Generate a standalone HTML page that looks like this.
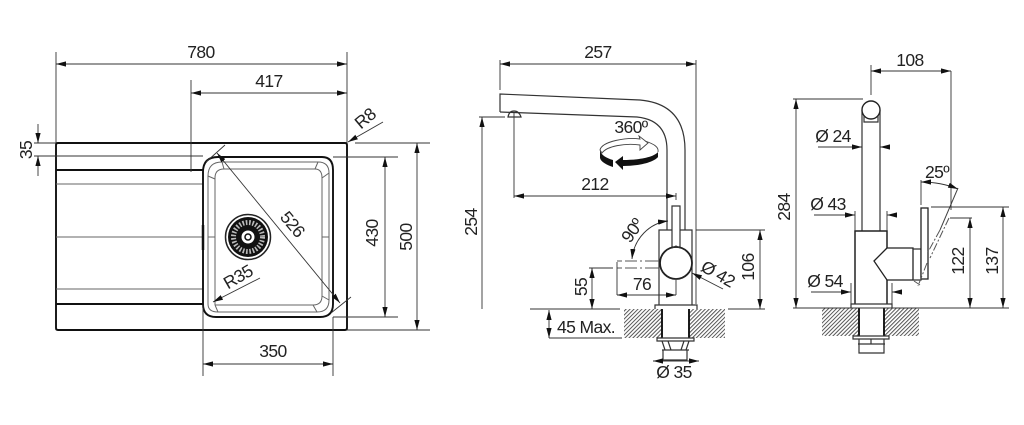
<!DOCTYPE html>
<html><head><meta charset="utf-8"><style>
html,body{margin:0;padding:0;background:#fff;width:1024px;height:425px;overflow:hidden}
svg{display:block;filter:blur(.3px)}
text{font-family:"Liberation Sans",sans-serif;font-size:17.5px;letter-spacing:-.6px;fill:#222;text-anchor:middle}
.d{stroke:#333;stroke-width:.9;fill:none}
.da{stroke:#333;stroke-width:.9;fill:none;marker-start:url(#a);marker-end:url(#a)}
.de{stroke:#333;stroke-width:.9;fill:none;marker-end:url(#a)}
.t{stroke:#111;stroke-width:1.9;fill:none}
.m{stroke:#333;stroke-width:1.2;fill:none}
.g{stroke:#666;stroke-width:1;fill:none}
</style></head><body>
<svg width="1024" height="425" viewBox="0 0 1024 425" xmlns="http://www.w3.org/2000/svg">
<defs>
<marker id="a" markerUnits="userSpaceOnUse" markerWidth="11" markerHeight="6" refX="10" refY="3" orient="auto-start-reverse"><path d="M0,.4 L10,3 L0,5.6z" fill="#111"/></marker>
<pattern id="h" width="2.8" height="2.8" patternUnits="userSpaceOnUse" patternTransform="rotate(45)"><rect width="2.8" height="2.8" fill="#fff"/><rect width="1" height="2.8" fill="#555"/></pattern>
</defs>

<!-- SINK -->
<path class="t" d="M56,145 Q56,143 58,143 H345 Q347,143 347,145 V328 Q347,330 345,330 H58 Q56,330 56,328 Z"/>
<path class="t" d="M56,170 H203 M56,304 H203"/>
<path class="g" d="M56,184 H203 M56,237 H203 M56,289 H203"/>
<path d="M203,225 V250" stroke="#111" stroke-width="2.5"/>
<path class="t" d="M203,172 Q203,157 218,157 H322 Q333,157 333,170 V304 Q333,317 320,317 H216 Q203,317 203,304 Z" stroke-width="1.6"/>
<path class="g" d="M208,304 V176 Q208,162 222,162 H318 Q329,162 329,173 V300 Q329,312 317,312 H218 Q208,312 208,304"/>
<path class="g" d="M215,305 V178 Q215,169 224,169 H315 Q322,169 322,178 V296 Q322,305 313,305 H215"/>
<path class="g" d="M208,237 H215 M322,237 H329 M208,176 L215,179 M222,162 L224,169 M318,162 L315,169 M329,173 L322,178 M329,300 L322,296 M317,312 L313,305 M218,312 L215,305"/>
<!-- drain -->
<circle cx="248" cy="237" r="22.5" fill="#fff" stroke="#222" stroke-width="1.5"/>
<circle cx="248" cy="237" r="20" fill="#111"/>
<circle cx="248" cy="237" r="14.5" fill="none" stroke="#bbb" stroke-width="5" stroke-dasharray="1.6 1.7"/>
<circle cx="248" cy="237" r="9.5" fill="#111"/>
<circle cx="248" cy="237" r="6.5" fill="#fff"/>
<circle cx="248" cy="237" r="3" fill="#fff" stroke="#111" stroke-width="1.5"/>

<!-- sink dims -->
<path class="d" d="M56,52 V143 M347,52 V143 M191,80 V172 M34,143 H56 M34,156 H203 M203,305 V376 M333,317 V376"/>
<path class="da" d="M56,64 H347"/>
<path class="da" d="M191,93 H347"/>
<path class="de" d="M38,124 V143"/>
<path class="de" d="M38,176 V156"/>
<path class="da" d="M203,364 H333"/>
<path class="d" d="M355,143 H430 M333,157 H398 M333,317 H398 M347,330 H430"/>
<path class="da" d="M385,157 V317"/>
<path class="da" d="M417,143 V330"/>
<path class="de" d="M383,122 L348,142"/>
<path class="da" d="M217,153 L340,303"/>
<path class="d" d="M225,145 L206,162 M351,297 L331,313"/>
<path class="de" d="M260,278 L213,302"/>
<text x="201" y="58">780</text>
<text x="269" y="87">417</text>
<text x="273" y="357">350</text>
<text transform="translate(32,150) rotate(-90)">35</text>
<text transform="translate(378,233) rotate(-90)">430</text>
<text transform="translate(412,237) rotate(-90)">500</text>
<text transform="translate(369,123) rotate(-40)">R8</text>
<text transform="translate(288,228) rotate(50)">526</text>
<text transform="translate(241,282) rotate(-30)">R35</text>

<!-- FAUCET 1 -->
<path class="m" d="M500,112 V94 L640,100 Q685,104 685,150 V230"/>
<path class="m" d="M500,112 L637,117 Q667,120 667,150 V230"/>
<path class="m" d="M508,117 Q509,111 514,111 Q519,111 521,117 H508 Z"/>
<path class="m" d="M659,305 V230 H692 V305"/>
<path class="m" d="M655,309 V305 H697 V309"/>
<path d="M672,248 V206 H680 V248" fill="#fff" stroke="#333" stroke-width="1.2"/>
<circle cx="676" cy="263" r="16" fill="#fff" stroke="#222" stroke-width="1.8"/>
<path class="m" d="M672,248 L676,246 L680,248"/>
<path d="M659,261 H645 M642,261 H640 M637,261 H625 M622,261 H617 M659,268 H645 M642,268 H640 M637,268 H625 M622,268 H617" stroke="#555" stroke-width="1"/>
<rect x="624" y="309" width="38" height="29" fill="url(#h)"/>
<rect x="689" y="309" width="36" height="29" fill="url(#h)"/>
<path class="t" d="M662,309 V338 M689,309 V338" stroke-width="1.4"/>
<path class="m" d="M657,338 H694 V341 H657 Z M662,341 L665,350 H686 L689,341 M662,350 H689 M663,350 V360 H687 V350 M668,341 L671,350 M684,341 L681,350"/>
<!-- rotation arrow -->
<path d="M600,150 C602,141 628,137 640,139 L639,136 L648,143 L640,150 L640,145 C625,143 607,146 602,153 Z" fill="#fff" stroke="#444" stroke-width=".9"/>
<path d="M645,141 C654,144 659,147 658,152" fill="none" stroke="#444" stroke-width=".9"/>
<path d="M600,150 L600,158 C601,162 607,165 613,167 L613,160 C606,158 601,155 600,150 Z" fill="#111"/>
<path d="M658,152 V157 C654,162 640,166 623,166 L623,170 L615,162 L623,156 L623,160 C640,160 654,157 658,152 Z" fill="#111"/>
<!-- dims -->
<path class="d" d="M500,60 V90 M696,60 V304 M514,112 V198 M676,193 V200 M479,117 H505 M530,309 H620 M728,309 H765 M589,268 H613 M617,262 V295 M676,280 V295 M696,230 H765 M549,338 H622"/>
<path class="da" d="M500,64 H696"/>
<path class="da" d="M514,196 H676"/>
<path class="de" d="M482,309 V117"/>
<path class="da" d="M592,268 V309"/>
<path class="da" d="M617,295 H676"/>
<path class="da" d="M760,230 V309"/>
<path class="da" d="M549,310 V338"/>
<path class="de" d="M723,289 L692,273"/>
<path class="da" d="M668,221 C650,223 634,238 632,259"/>
<path class="de" d="M675,361 H699"/>
<path class="de" d="M675,361 H653"/>
<text x="598" y="58">257</text>
<text x="631" y="133">360º</text>
<text x="595" y="190">212</text>
<text transform="translate(477,222) rotate(-90)">254</text>
<text transform="translate(637,234) rotate(-55)">90º</text>
<text transform="translate(587,287) rotate(-90)">55</text>
<text x="642" y="290">76</text>
<text transform="translate(715,279) rotate(30)">Ø 42</text>
<text transform="translate(754,267) rotate(-90)">106</text>
<text x="586" y="333">45 Max.</text>
<text x="674" y="378">Ø 35</text>

<!-- FAUCET 2 -->
<path class="m" d="M862,110 V231 M880,110 V231"/>
<circle cx="871" cy="110" r="9" fill="#fff" stroke="#222" stroke-width="1.4"/>
<path class="m" d="M864,116 V122 H878 V116"/>
<path d="M855,304 V231 H887 V304" fill="none" stroke="#222" stroke-width="1.5"/>
<path d="M887,248 L874,261 L887,280 H913 V248 Z" fill="#fff" stroke="#222" stroke-width="1.3"/>
<path d="M913,249 H921 V280 H913" class="m"/>
<rect x="921" y="208" width="7" height="71" fill="#fff" stroke="#222" stroke-width="1.3"/>
<path class="m" d="M851,308 V304 H892 V308"/>
<path d="M958,188 L940,230" stroke="#444" stroke-width="1" fill="none"/>
<path d="M949,218 L930,258 M940,230 L928,252 M927,263 L918,286" stroke="#555" stroke-width="1" stroke-dasharray="8 2 2 2" fill="none"/>
<path d="M914,281 L920,285" stroke="#555" stroke-width="1"/>
<rect x="822" y="308" width="36" height="28" fill="url(#h)"/>
<rect x="884" y="308" width="35" height="28" fill="url(#h)"/>
<path class="t" d="M859,308 V336 M884,308 V336" stroke-width="1.4"/>
<path class="m" d="M853,336 H889 V339 H853 Z M859,339 L859,352 V353 H884 V339 M858,344 H885 M871,339 V344"/>
<!-- dims -->
<path class="d" d="M871,65 V95 M951,71 V210 M793,99 H863 M793,308 H1009 M855,211 V231 M887,211 V231 M851,283 V304 M892,283 V304 M862,140 V153 M880,140 V153 M921,180 V205 M950,218 H972 M931,207 H1009"/>
<path class="da" d="M871,71 H951"/>
<path class="da" d="M796,99 V308"/>
<path class="de" d="M818,147 H862"/>
<path class="de" d="M890,147 H880"/>
<path class="de" d="M814,215 H855"/>
<path class="de" d="M897,215 H887"/>
<path class="de" d="M811,292 H851"/>
<path class="de" d="M901,292 H892"/>
<path class="da" d="M921,182 Q941,182 958,189"/>
<path class="da" d="M970,218 V308"/>
<path class="da" d="M1003,207 V308"/>
<text x="910" y="66">108</text>
<text transform="translate(790,207) rotate(-90)">284</text>
<text x="833" y="142">Ø 24</text>
<text x="828" y="210">Ø 43</text>
<text x="825" y="287">Ø 54</text>
<text x="937" y="178">25º</text>
<text transform="translate(964,261) rotate(-90)">122</text>
<text transform="translate(998,261) rotate(-90)">137</text>
</svg>
</body></html>
